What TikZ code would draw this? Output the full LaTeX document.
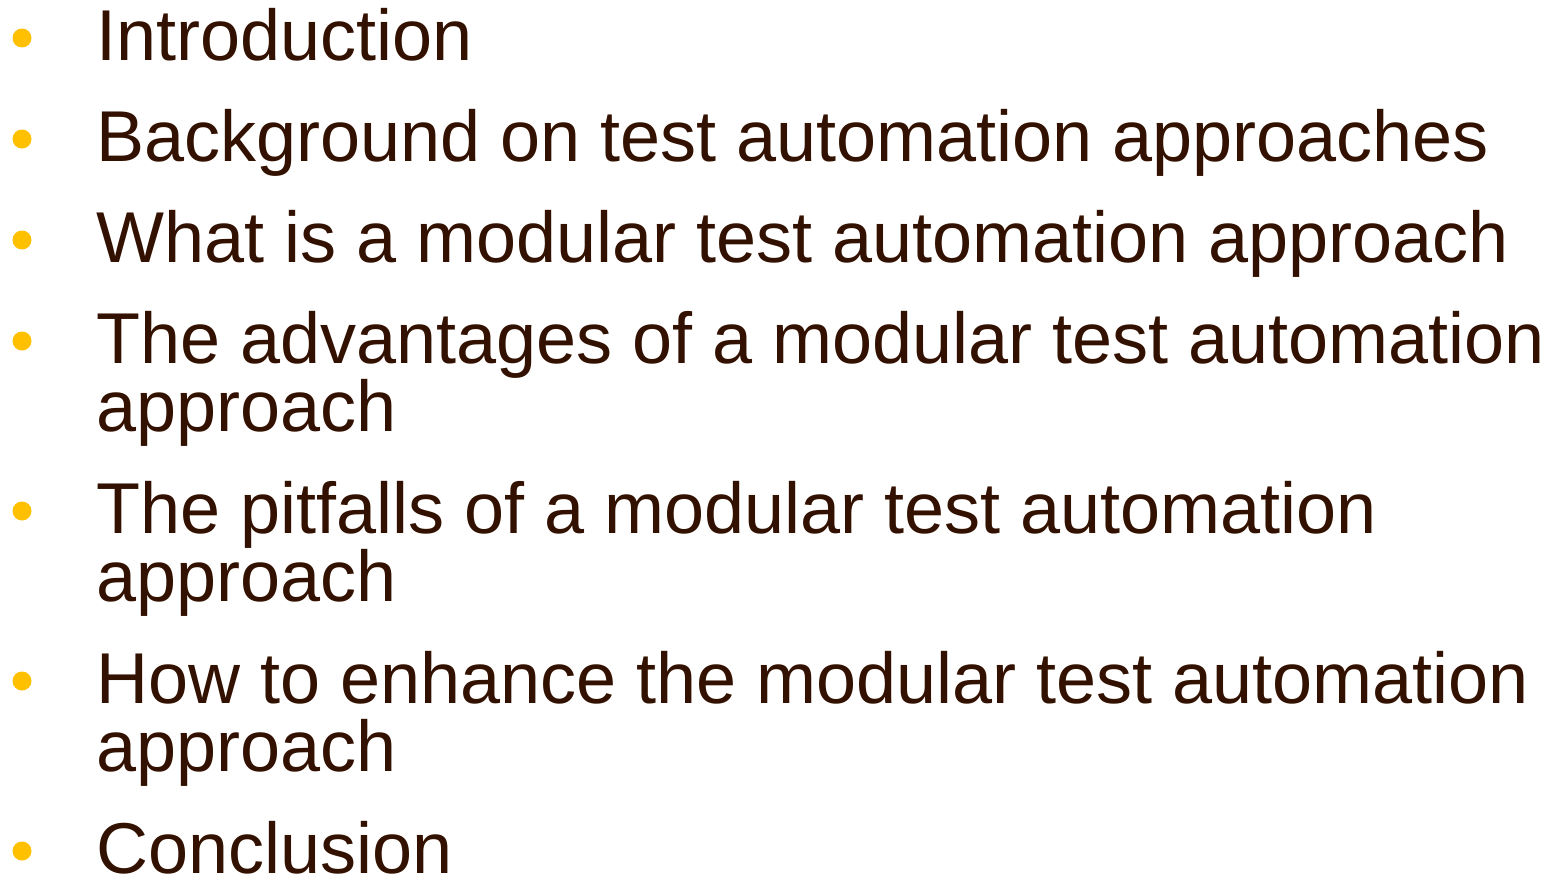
\documentclass[tikz,border=0pt]{standalone}
\usepackage{fontspec}
\setmainfont{Liberation Sans}
\definecolor{txtbrown}{HTML}{331100}
\definecolor{bulletyel}{HTML}{FFC000}
\begin{document}
\begin{tikzpicture}[x=1pt,y=-1pt,
  itemtext/.style={anchor=base west,inner sep=0pt,text=txtbrown,font=\fontsize{72}{68}\selectfont},
  bulletdot/.style={circle,fill=bulletyel,minimum size=19pt,inner sep=0pt}]
\useasboundingbox (0,0) rectangle (1563,875);
\node[bulletdot] (b1) at (22,38) {};
\node[itemtext] (t1) at (96,60) {Introduction};
\node[bulletdot] (b2) at (22,139) {};
\node[itemtext] (t2) at (96,161) {Background on test automation approaches};
\node[bulletdot] (b3) at (22,240) {};
\node[itemtext] (t3) at (96,262) {What is a modular test automation approach};
\node[bulletdot] (b4) at (22,341) {};
\node[itemtext] (t4) at (96,363) {The advantages of a modular test automation};
\node[itemtext] (t4b) at (96,431) {approach};
\node[bulletdot] (b5) at (22,511) {};
\node[itemtext] (t5) at (96,533) {The pitfalls of a modular test automation};
\node[itemtext] (t5b) at (96,601) {approach};
\node[bulletdot] (b6) at (22,681) {};
\node[itemtext] (t6) at (96,703) {How to enhance the modular test automation};
\node[itemtext] (t6b) at (96,771) {approach};
\node[bulletdot] (b7) at (22,851) {};
\node[itemtext] (t7) at (96,873) {Conclusion};
\end{tikzpicture}
\end{document}
